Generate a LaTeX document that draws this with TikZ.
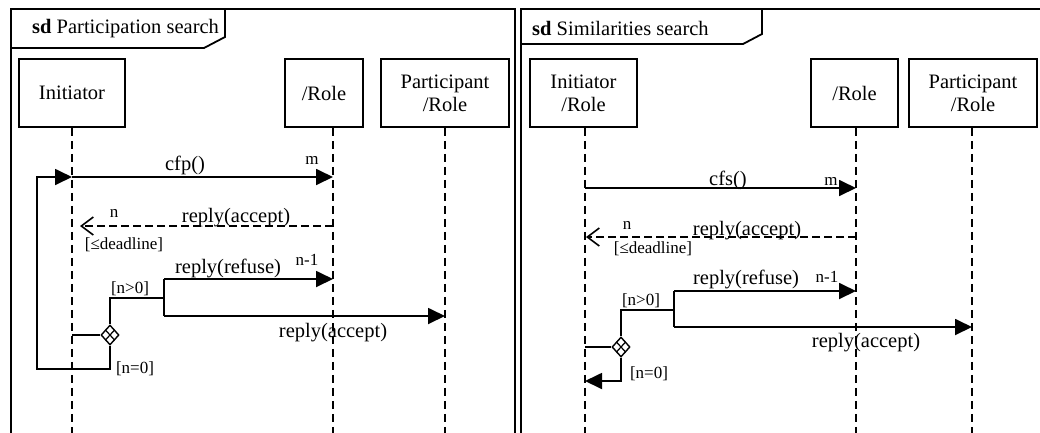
\documentclass[tikz,border=0pt]{standalone}
\usepackage{fontspec}
\setmainfont{Liberation Serif}
\usetikzlibrary{arrows.meta,shapes.geometric,calc}
\begin{document}
\begin{tikzpicture}[x=1pt,y=-1pt,
  frame/.style={line width=2.4pt},
  tab/.style={line width=1.8pt},
  head/.style={draw,line width=1.8pt,inner sep=0pt,align=center,minimum height=68pt,font=\fontsize{20.5}{23}\selectfont},
  life/.style={line width=1.8pt,dash pattern=on 8pt off 5pt},
  msg/.style={line width=1.8pt,-{Triangle[length=17pt,width=16pt]}},
  seg/.style={line width=1.8pt},
  rep/.style={line width=1.6pt,dash pattern=on 8pt off 4pt,-{Straight Barb[length=12pt,width=18pt,line width=1.6pt]}},
  lbl/.style={inner sep=0pt,anchor=base,font=\fontsize{20.5}{23}\selectfont},
  sml/.style={inner sep=0pt,anchor=base,font=\fontsize{17}{19}\selectfont},
  dec/.style={draw,shape=diamond,line width=1.4pt,inner sep=0pt,minimum width=18pt,minimum height=20pt},
  inner/.style={line width=1.2pt},
]
\useasboundingbox (0,0) rectangle (1040,432);

% frames
\draw[frame] (11,436) -- (11,9) -- (515,9) -- (515,436);
\draw[frame] (521,436) -- (521,9) -- (1045,9);
\draw[tab] (11,48) -- (204,48) -- (225,37) -- (225,9);
\draw[tab] (521,44) -- (743,44) -- (762,34) -- (762,9);
\node[inner sep=0pt,anchor=base west,font=\fontsize{20.5}{23}\selectfont] (t1) at (32,33) {\textbf{sd} Participation search};
\node[inner sep=0pt,anchor=base west,font=\fontsize{20.5}{23}\selectfont] (t2) at (532,35) {\textbf{sd} Similarities search};

% heads
\node[head,minimum width=106pt] (aI) at (72,93) {Initiator};
\node[head,minimum width=78pt] (aR) at (324,93) {/Role};
\node[head,minimum width=128pt] (aP) at (445,93) {Participant\\/Role};
\node[head,minimum width=107pt] (bI) at (583.5,93) {Initiator\\/Role};
\node[head,minimum width=87pt] (bR) at (854.5,93) {/Role};
\node[head,minimum width=128pt] (bP) at (973,93) {Participant\\/Role};

% lifelines
\coordinate (aIb) at (72,436);
\coordinate (aRb) at (333,436);
\coordinate (aPb) at (445,436);
\coordinate (bIb) at (585,436);
\coordinate (bRb) at (856,436);
\coordinate (bPb) at (972,436);
\draw[life] (aI.south -| aIb) -- (aIb);
\draw[life] (aR.south -| aRb) -- (aRb);
\draw[life] (aP.south -| aPb) -- (aPb);
\draw[life] (bI.south -| bIb) -- (bIb);
\draw[life] (bR.south -| bRb) -- (bRb);
\draw[life] (bP.south -| bPb) -- (bPb);

% ---------- left diagram ----------
\coordinate (a1s) at (72,177);
\coordinate (a1e) at (333,177);
\coordinate (a2s) at (333,226);
\coordinate (a2e) at (80,226);
\coordinate (aB) at (164,279);
\coordinate (a3e) at (333,279);
\coordinate (aBm) at (164,298);
\coordinate (aB2) at (164,316);
\coordinate (a4e) at (445,316);
\coordinate (aDl) at (72,335);
\coordinate (aLb) at (37,369);
\node[dec] (ad) at (110,335) {};
\draw[inner] ($(ad.north)!0.5!(ad.west)$) -- ($(ad.south)!0.5!(ad.east)$);
\draw[inner] ($(ad.north)!0.5!(ad.east)$) -- ($(ad.south)!0.5!(ad.west)$);

\draw[msg] (a1s) -- (a1e);
\draw[rep] (a2s) -- (a2e);
\draw[msg] (aB) -- (a3e);
\draw[msg] (aB2) -- (a4e);
\draw[seg] (aB) -- (aB2);
\draw[seg] (ad.north) -- (ad.north |- aBm) -- (aBm);
\draw[seg] (aDl) -- (ad.west);
\draw[msg] (ad.south) -- (ad.south |- aLb) -- (aLb) -- (aLb |- a1s) -- (a1s);

\node[lbl] (la1) at (185,170) {cfp()};
\node[sml] (la1m) at (312,164) {m};
\node[sml] (la2n) at (114,217) {n};
\node[lbl] (la2) at (236,222) {reply(accept)};
\node[sml] (la2d) at (124,249) {[≤deadline]};
\node[lbl] (la3) at (228,273) {reply(refuse)};
\node[sml] (la3n) at (307,265) {n-1};
\node[sml] (lag1) at (130,293) {[n>0]};
\node[lbl] (la4) at (333,337) {reply(accept)};
\node[sml] (lag2) at (135,373) {[n=0]};

% ---------- right diagram ----------
\coordinate (b1s) at (585,188);
\coordinate (b1e) at (856,188);
\coordinate (b2s) at (856,237);
\coordinate (b2e) at (586,237);
\coordinate (bB) at (674,291);
\coordinate (b3e) at (856,291);
\coordinate (bBm) at (674,310);
\coordinate (bB2) at (674,327);
\coordinate (b4e) at (972,327);
\coordinate (bDl) at (585,347);
\coordinate (bRet) at (585,381);
\node[dec] (bd) at (621,347) {};
\draw[inner] ($(bd.north)!0.5!(bd.west)$) -- ($(bd.south)!0.5!(bd.east)$);
\draw[inner] ($(bd.north)!0.5!(bd.east)$) -- ($(bd.south)!0.5!(bd.west)$);

\draw[msg] (b1s) -- (b1e);
\draw[rep] (b2s) -- (b2e);
\draw[msg] (bB) -- (b3e);
\draw[msg] (bB2) -- (b4e);
\draw[seg] (bB) -- (bB2);
\draw[seg] (bd.north) -- (bd.north |- bBm) -- (bBm);
\draw[seg] (bDl) -- (bd.west);
\draw[msg] (bd.south) -- (bd.south |- bRet) -- (bRet);

\node[lbl] (lb1) at (728,185) {cfs()};
\node[sml] (lb1m) at (831,185) {m};
\node[sml] (lb2n) at (627,229) {n};
\node[lbl] (lb2) at (747,235) {reply(accept)};
\node[sml] (lb2d) at (653,253) {[≤deadline]};
\node[lbl] (lb3) at (746,284) {reply(refuse)};
\node[sml] (lb3n) at (827,282) {n-1};
\node[sml] (lbg1) at (641,305) {[n>0]};
\node[lbl] (lb4) at (866,347) {reply(accept)};
\node[sml] (lbg2) at (649,378) {[n=0]};
\end{tikzpicture}
\end{document}
